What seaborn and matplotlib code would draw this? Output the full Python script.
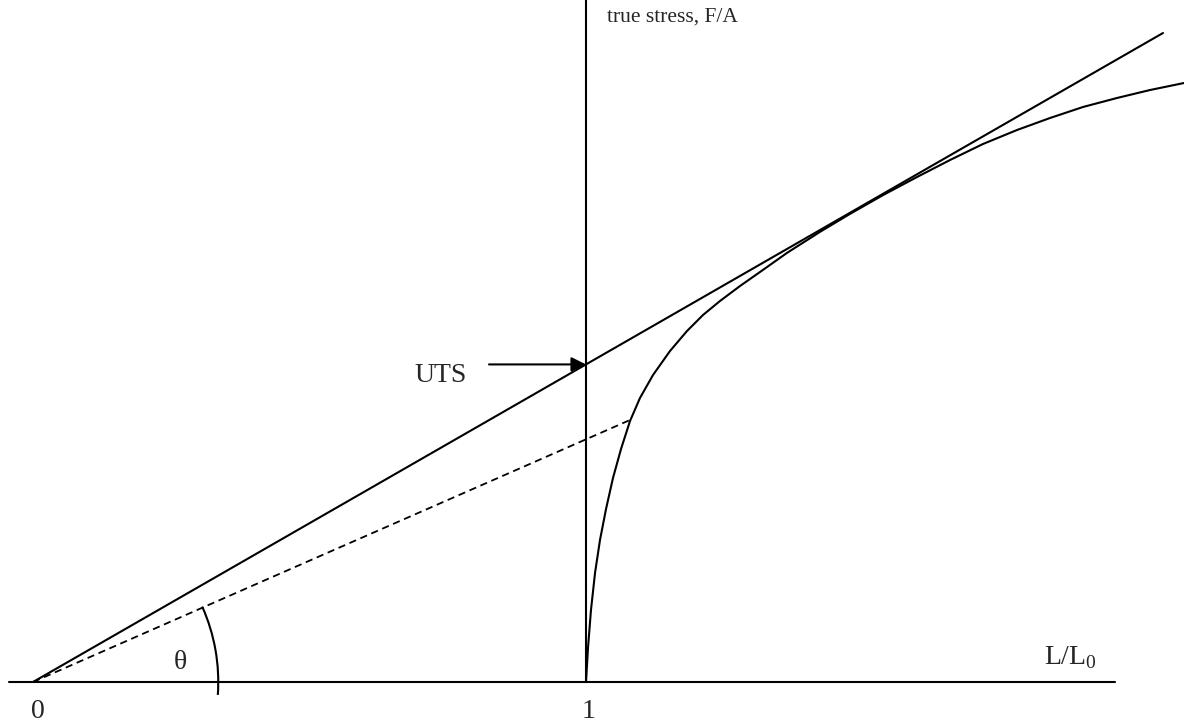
import numpy as np
import pandas as pd
import seaborn as sns
import matplotlib
matplotlib.use("Agg")
import matplotlib.pyplot as plt
from matplotlib.patches import Arc

# True stress vs L/L0 curve
strain_ratio = [1.0000, 1.0036, 1.0090, 1.0163, 1.0253, 1.0362, 1.0488, 1.0633,
                1.0796, 1.0976, 1.1212, 1.1519, 1.1826, 1.2116, 1.2423, 1.2785,
                1.3146, 1.3635, 1.4231, 1.4774, 1.5371, 1.5986, 1.6582, 1.7179,
                1.7794, 1.8391, 1.8987, 1.9602, 2.0199, 2.0814]
true_stress = [0.0000, 0.0615, 0.1302, 0.1971, 0.2568, 0.3128, 0.3689, 0.4213,
               0.4720, 0.5136, 0.5552, 0.5986, 0.6347, 0.6637, 0.6890, 0.7161,
               0.7414, 0.7760, 0.8140, 0.8465, 0.8805, 0.9132, 0.9439, 0.9729,
               0.9982, 1.0199, 1.0398, 1.0561, 1.0705, 1.0832]

# Considere tangent from origin, and the dashed secant
tangent_x = [0.0, 2.0434]
tangent_y = [0.0, 1.1736]
secant_x = [0.0, 1.0796]
secant_y = [0.0, 0.4738]
uts = 0.5743

sns.set_theme(style="white")
plt.rcParams["font.family"] = ["Liberation Serif", "DejaVu Serif"]
plt.rcParams["mathtext.fontset"] = "custom"
plt.rcParams["mathtext.rm"] = "Liberation Serif"

fig = plt.figure(figsize=(11.84, 7.22), dpi=100)
ax = fig.add_axes([0, 0, 1, 1])

curve = pd.DataFrame({"x": strain_ratio, "y": true_stress})
sns.lineplot(data=curve, x="x", y="y", sort=False, color="black", lw=1.5, ax=ax)
sns.lineplot(x=tangent_x, y=tangent_y, color="black", lw=1.5, ax=ax)
ax.plot(secant_x, secant_y, color="black", lw=1.3, dashes=(4, 2.6))

# axes drawn as lines
ax.plot([-0.0434, 1.9566], [0, 0], color="black", lw=1.5)
ax.plot([1, 1], [0, 1.2333], color="black", lw=1.5)

# angle arc
ax.add_patch(Arc((0, 0), 0.67, 0.67, theta1=-4, theta2=24, color="black", lw=1.5))

ax.annotate("", xy=(1, uts), xytext=(0.8246, uts),
            arrowprops=dict(arrowstyle="-|>", color="black", lw=1.5,
                            mutation_scale=22, shrinkA=0, shrinkB=0))

ax.text(0.785, 0.5425, "UTS", fontsize=20, ha="right", va="baseline")
ax.text(0.009, -0.030, "0", fontsize=20, ha="center", va="top")
ax.text(1.005, -0.030, "1", fontsize=20, ha="center", va="top")
ax.text(0.266, 0.036, "θ", fontsize=20, ha="center", va="center")
ax.text(1.924, 0.045, r"L/L$_0$", fontsize=20, ha="right", va="center")
ax.text(1.038, 1.2025, "true stress, F/A", fontsize=15.5, ha="left", va="center")

ax.set_xlim(-0.0597, 2.0814)
ax.set_ylim(-0.0723, 1.2333)
ax.set_axis_off()

fig.savefig("out.png", dpi=100)
